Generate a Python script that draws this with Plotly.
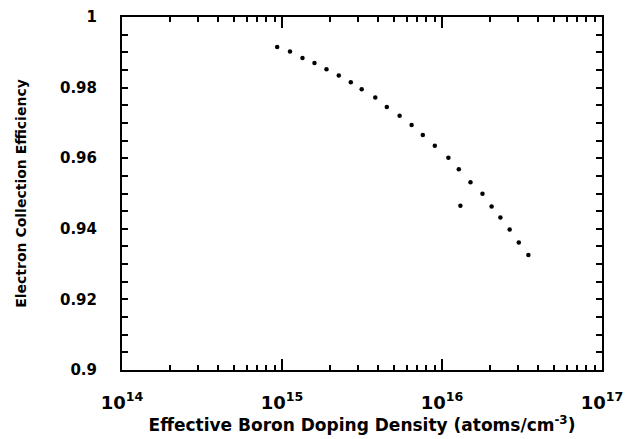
import numpy as np
import plotly.graph_objects as go

# Data (log10 of doping density, efficiency)
log_density = [14.970, 15.050, 15.128, 15.203, 15.278, 15.355, 15.430, 15.498,
               15.583, 15.655, 15.735, 15.810, 15.880, 15.955, 16.040, 16.105,
               16.178, 16.253, 16.310, 16.365, 16.423, 16.480, 16.540]
efficiency = [0.9915, 0.9902, 0.9884, 0.9870, 0.9852, 0.9834, 0.9815, 0.9795,
              0.9772, 0.9745, 0.9720, 0.9694, 0.9666, 0.9635, 0.9601, 0.9569,
              0.9532, 0.9499, 0.9463, 0.9432, 0.9398, 0.9361, 0.9326]
extra_log_density = [16.115]
extra_efficiency = [0.9465]

x_tick_vals = [1e14, 1e15, 1e16, 1e17]
x_tick_text = ["10<sup>14</sup>", "10<sup>15</sup>", "10<sup>16</sup>", "10<sup>17</sup>"]
y_tick_vals = [0.90, 0.92, 0.94, 0.96, 0.98, 1.00]
y_tick_text = ["0.9", "0.92", "0.94", "0.96", "0.98", "1"]

x = [10 ** v for v in log_density]
xe = [10 ** v for v in extra_log_density]

minor_x = [m * 10 ** d for d in (14, 15, 16) for m in range(2, 10)]
minor_y = [round(0.9 + 0.005 * i, 3) for i in range(21)]

font_family = "DejaVu Sans, Liberation Sans, Arial, sans-serif"

fig = go.Figure()
fig.add_trace(go.Scatter(x=x, y=efficiency, mode="markers",
                         marker=dict(color="black", size=4.5), showlegend=False))
fig.add_trace(go.Scatter(x=xe, y=extra_efficiency, mode="markers",
                         marker=dict(color="black", size=4.5), showlegend=False))

fig.update_layout(
    width=627, height=439,
    margin=dict(l=122, r=25, t=17, b=69),
    plot_bgcolor="white", paper_bgcolor="white",
    font=dict(family=font_family, color="black"),
)
fig.update_xaxes(
    type="log", range=[14, 17], automargin=False,
    tickvals=x_tick_vals, ticktext=x_tick_text,
    tickfont=dict(size=18, weight="bold"),
    ticks="inside", ticklen=11, tickwidth=2, tickcolor="black",
    minor=dict(ticks="inside", ticklen=5, tickwidth=2, tickcolor="black", tickvals=minor_x),
    showline=True, linewidth=2, linecolor="black", mirror="ticks",
    showgrid=False, zeroline=False,
    ticklabelstandoff=15,
    title=dict(text="Effective Boron Doping Density (atoms/cm<sup>-3</sup>)",
               font=dict(size=17, weight="bold"), standoff=8),
)
fig.update_yaxes(
    range=[0.9, 1.0], automargin=False,
    tickvals=y_tick_vals, ticktext=y_tick_text,
    tickfont=dict(size=15, weight="bold"),
    ticks="inside", ticklen=6, tickwidth=2, tickcolor="black",
    minor=dict(ticks="inside", ticklen=6, tickwidth=2, tickcolor="black", tickvals=minor_y),
    showline=True, linewidth=2, linecolor="black", mirror="ticks",
    showgrid=False, zeroline=False,
    ticklabelstandoff=20,
    title=dict(text="Electron Collection Efficiency",
               font=dict(size=14, weight="bold"), standoff=30),
)

fig.write_html("out.html")
